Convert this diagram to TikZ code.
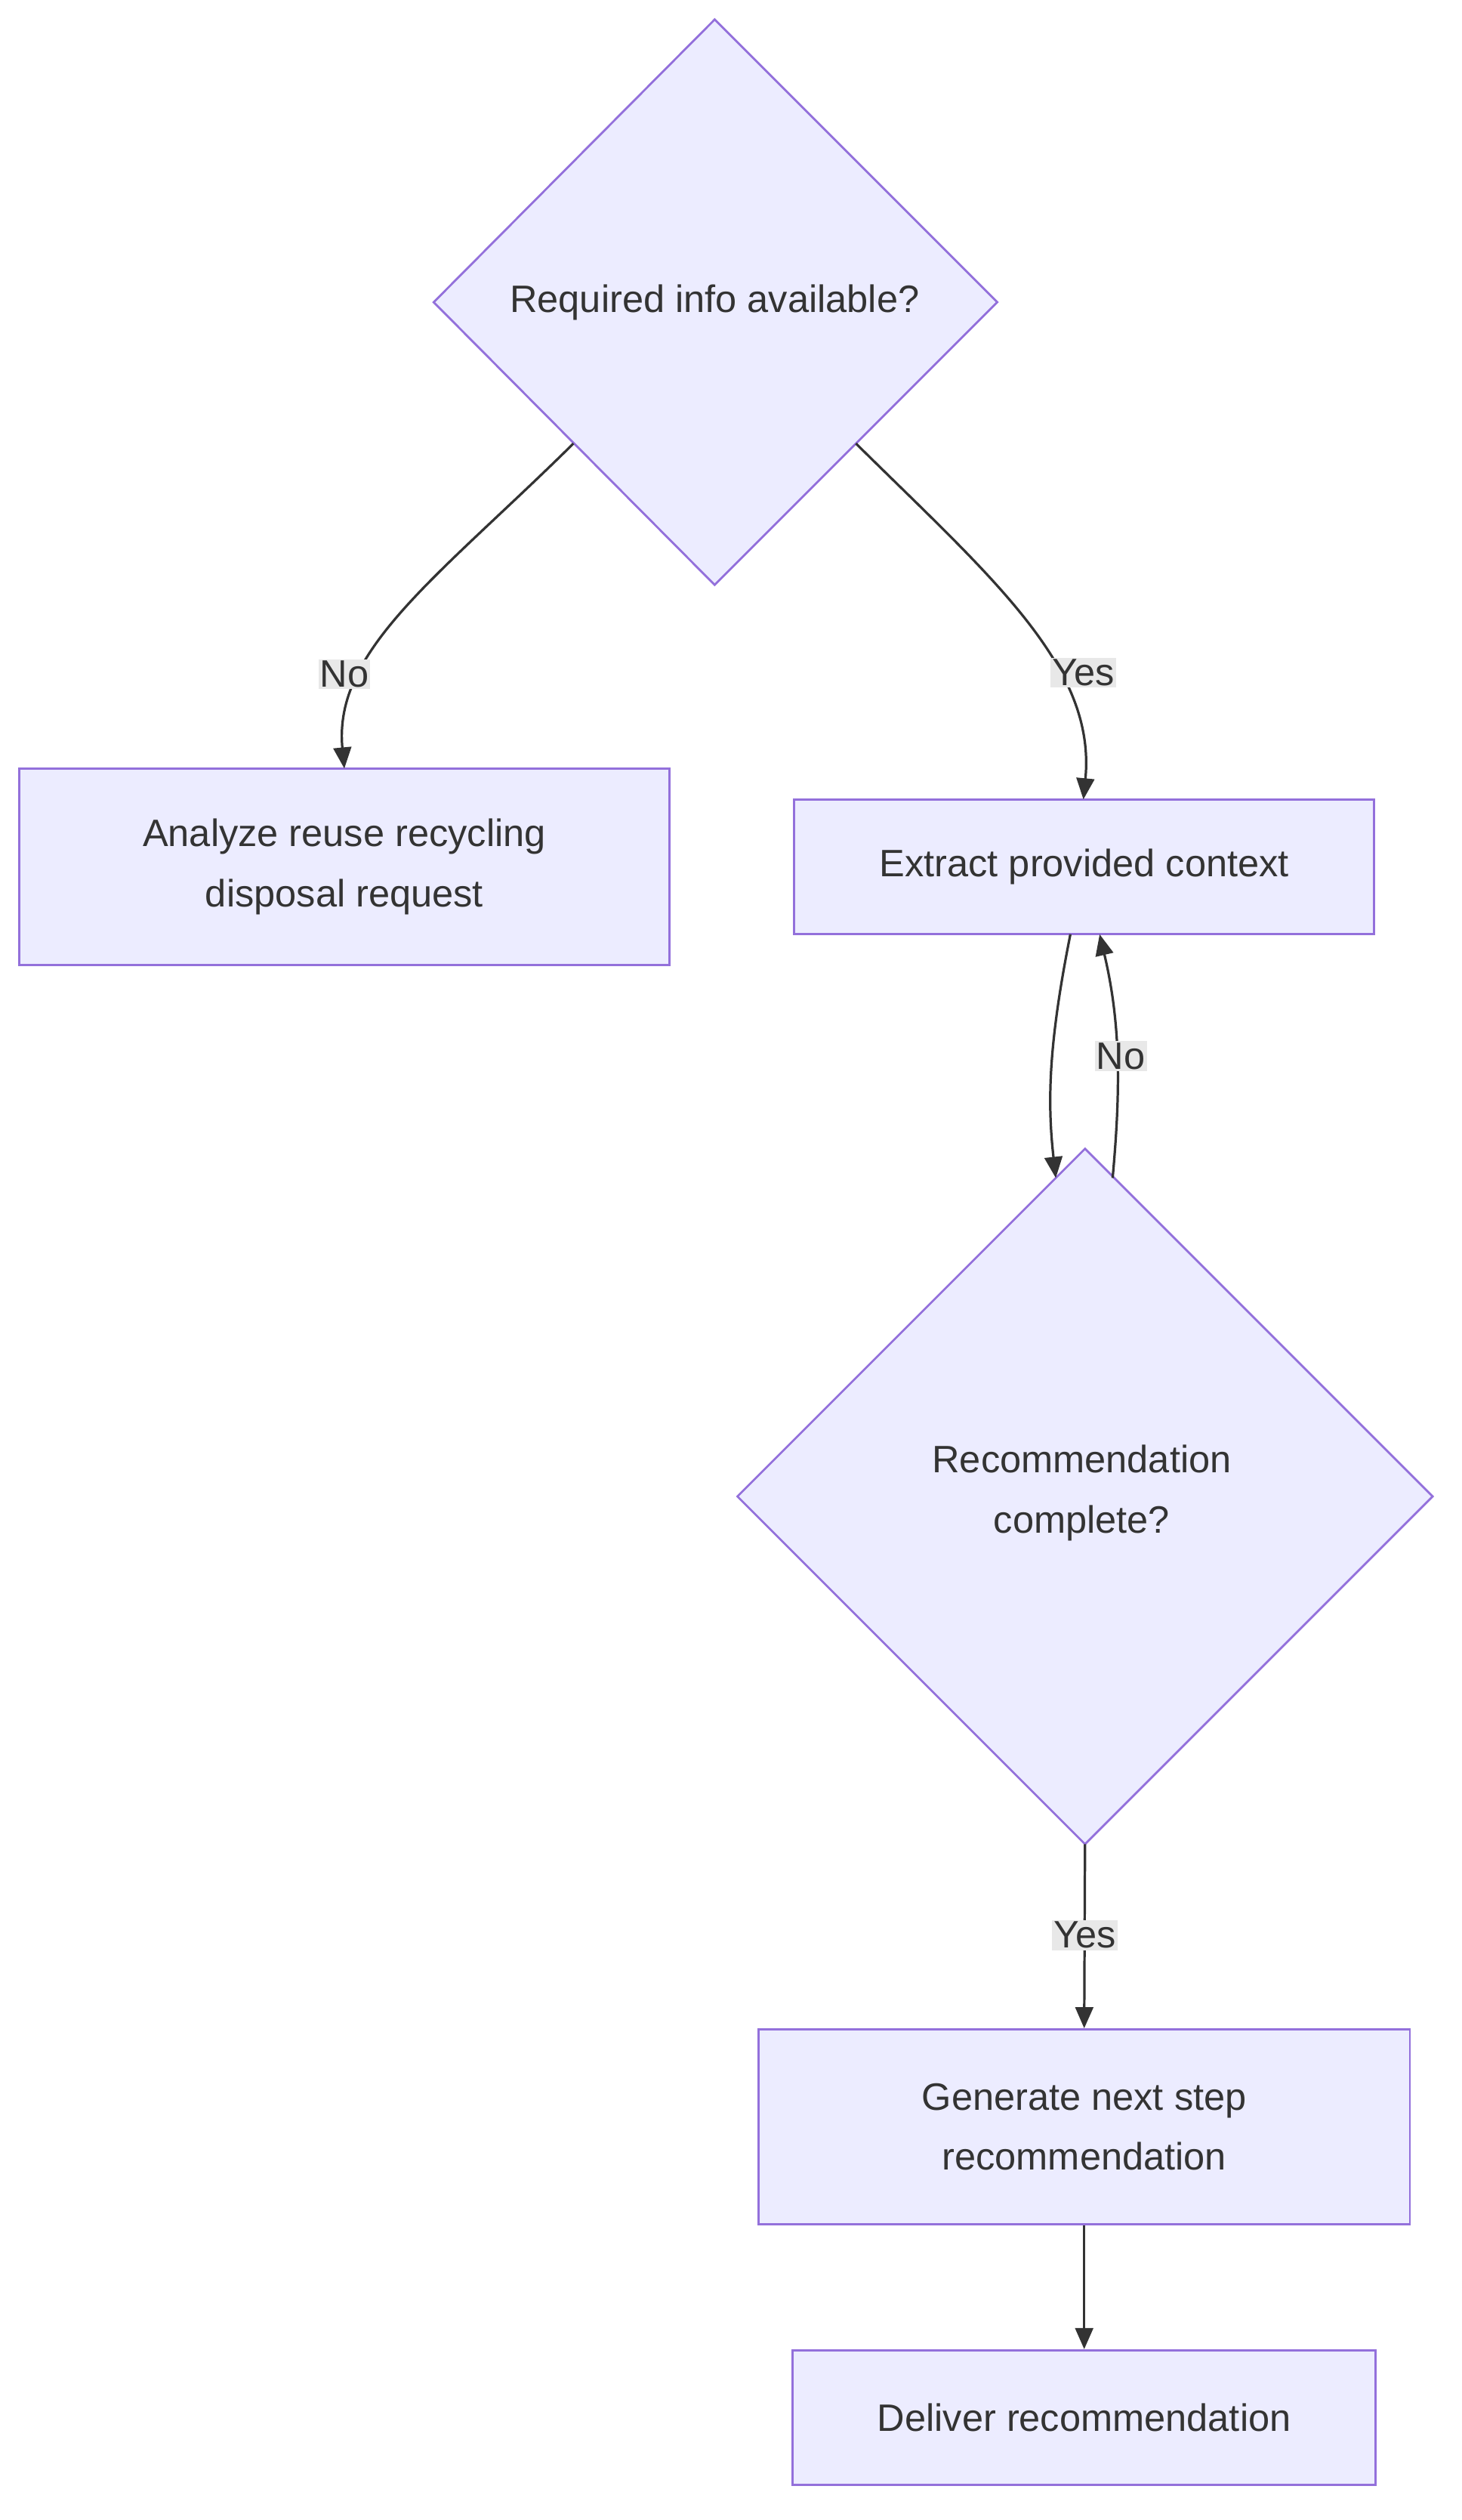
\documentclass[tikz,border=0pt]{standalone}
\usepackage{fontspec}
\setmainfont{Liberation Sans}
\usetikzlibrary{arrows.meta,shapes.geometric}
\definecolor{nodefill}{HTML}{ECECFF}
\definecolor{nodeline}{HTML}{9370DB}
\definecolor{edge}{HTML}{333333}
\definecolor{lblbg}{HTML}{E8E8E8}
\definecolor{txt}{HTML}{333333}
\begin{document}
\begin{tikzpicture}[x=1pt,y=-1pt,
  every node/.style={font=\fontsize{23.5}{37}\selectfont,text=txt},
  boxn/.style={draw=nodeline,fill=nodefill,line width=1.3pt,rectangle,align=center},
  lbl/.style={fill=lblbg,inner sep=1pt},
  conn/.style={draw=edge,line width=1.5pt,-{Triangle[length=13pt,width=11pt]}}]
\useasboundingbox (0,0) rectangle (900,1551);
\draw[boxn] (440,12) -- (614,186) -- (440,360) -- (267,186) -- cycle;
\node (d1) at (440,186) {Required info available?};
\coordinate (d1l) at (353,273);
\coordinate (d1r) at (527,273);
\node[boxn,minimum width=400pt,minimum height=121pt] (a) at (212,533.5) {Analyze reuse recycling\\disposal request};
\node[boxn,minimum width=357pt,minimum height=83pt] (e) at (667.5,533.5) {Extract provided context};
\draw[boxn] (668,707) -- (882,921) -- (668,1135) -- (454,921) -- cycle;
\node[align=center] (d2) at (666,919) {Recommendation\\complete?};
\coordinate (d2t1) at (650,725);
\coordinate (d2t2) at (685,725);
\coordinate (d2b) at (668,1135);
\node[boxn,minimum width=401pt,minimum height=120pt] (g) at (667.5,1309) {Generate next step\\recommendation};
\node[boxn,minimum width=359pt,minimum height=83pt] (dl) at (667.5,1488) {Deliver recommendation};
\draw[conn] (d1l) .. controls (270,355) and (205,400) .. (212,473);
\draw[conn] (d1r) .. controls (610,355) and (675,410) .. (667,492);
\draw[conn] (659,575) .. controls (645,645) and (645,680) .. (d2t1);
\draw[conn] (d2t2) .. controls (690,670) and (690,630) .. (677,575);
\draw[conn] (d2b) -- (g.north);
\draw[conn] (g.south) -- (dl.north);
\node[lbl] at (212,415) {No};
\node[lbl] at (667,414) {Yes};
\node[lbl] at (690,650) {No};
\node[lbl] at (668,1191) {Yes};
\end{tikzpicture}
\end{document}
